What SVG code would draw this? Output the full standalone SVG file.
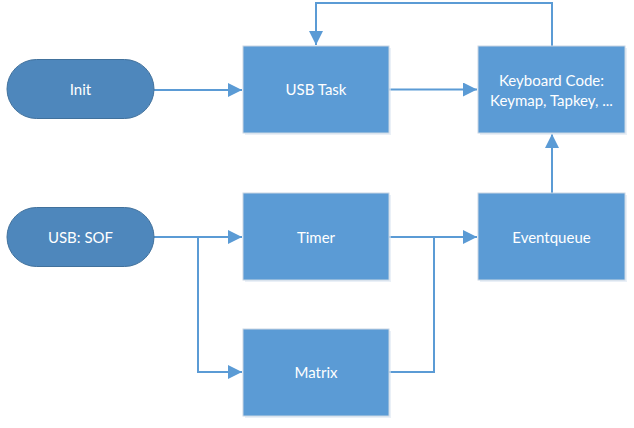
<svg xmlns="http://www.w3.org/2000/svg" width="634" height="428" viewBox="0 0 634 428">
<style>
.box{fill:#5b9bd5;stroke:#c9d6e3;stroke-width:1}
.pill{fill:#4e87bc;stroke:#41719c;stroke-width:1}
.sh{fill:#dce6f1;opacity:0.6}
.lbl{font-family:Lato,"Liberation Sans",sans-serif;font-size:15px;fill:#ffffff;text-anchor:middle;dominant-baseline:central}
.conn{fill:none;stroke:#5b9bd5;stroke-width:2}
</style>
<defs>
<marker id="ah" viewBox="0 0 14 14" refX="14" refY="7" markerWidth="14" markerHeight="14" markerUnits="userSpaceOnUse" orient="auto">
<path d="M0,0 L14,7 L0,14 Z" fill="#5b9bd5"/>
</marker>
</defs>
<rect width="634" height="428" fill="#ffffff"/>
<g id="connectors">
<path class="conn" d="M154,90 H242" marker-end="url(#ah)"/>
<path class="conn" d="M389,89.5 H477" marker-end="url(#ah)"/>
<path class="conn" d="M552,46 V3 H316 V45" marker-end="url(#ah)"/>
<path class="conn" d="M552,193 V134" marker-end="url(#ah)"/>
<path class="conn" d="M154,237 H242" marker-end="url(#ah)"/>
<path class="conn" d="M198,237 V372 H242" marker-end="url(#ah)"/>
<path class="conn" d="M389,237 H477" marker-end="url(#ah)"/>
<path class="conn" d="M389,372 H434 V237"/>
</g>
<g id="init">
<rect class="pill" x="7" y="59.5" width="147" height="59" rx="29.5"/>
<text class="lbl" x="80.5" y="89">Init</text>
</g>
<g id="usbtask">
<rect class="sh" x="245" y="48" width="146" height="87"/>
<rect class="box" x="243" y="46" width="146" height="87"/>
<text class="lbl" x="316" y="89">USB Task</text>
</g>
<g id="keyboard">
<rect class="sh" x="480" y="48" width="147" height="87"/>
<rect class="box" x="478" y="46" width="147" height="87"/>
<text class="lbl" x="551.5" y="80">Keyboard Code:</text>
<text class="lbl" x="551.5" y="100">Keymap, Tapkey, ...</text>
</g>
<g id="usbsof">
<rect class="pill" x="7" y="207.5" width="147" height="59" rx="29.5"/>
<text class="lbl" x="80.5" y="237">USB: SOF</text>
</g>
<g id="timer">
<rect class="sh" x="245" y="195" width="146" height="87"/>
<rect class="box" x="243" y="193" width="146" height="87"/>
<text class="lbl" x="316" y="236.5">Timer</text>
</g>
<g id="eventqueue">
<rect class="sh" x="480" y="195" width="147" height="87"/>
<rect class="box" x="478" y="193" width="147" height="87"/>
<text class="lbl" x="551.5" y="236.5">Eventqueue</text>
</g>
<g id="matrix">
<rect class="sh" x="245" y="331" width="146" height="87"/>
<rect class="box" x="243" y="329" width="146" height="87"/>
<text class="lbl" x="316" y="372">Matrix</text>
</g>
</svg>
